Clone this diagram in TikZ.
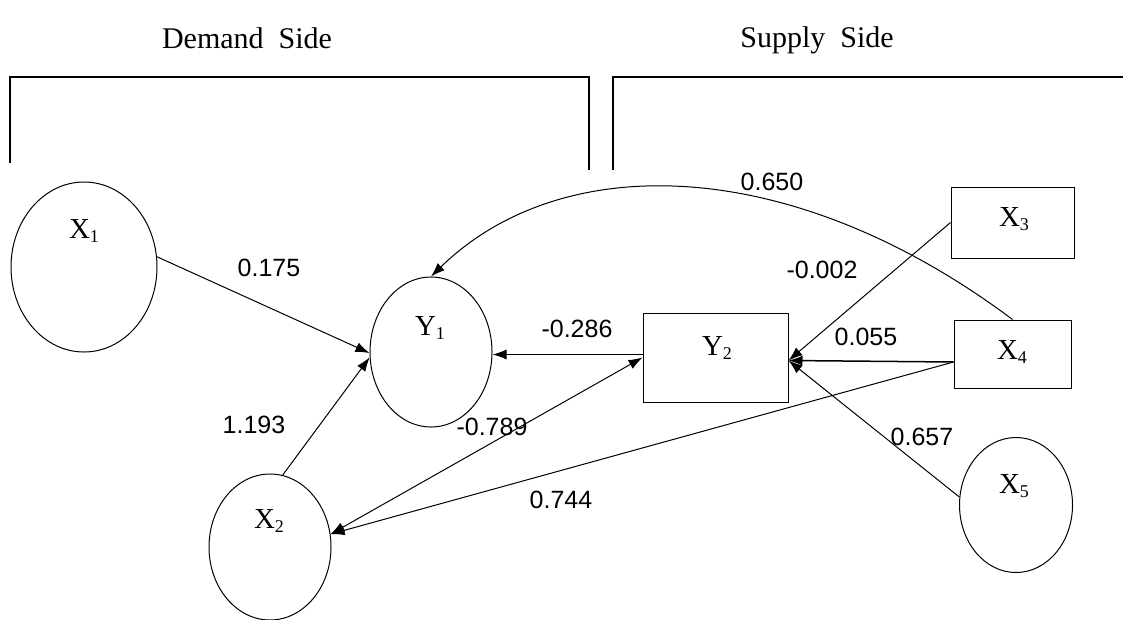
\documentclass[tikz,border=0pt]{standalone}
\usepackage{fontspec}
\setmainfont{Liberation Serif}
\newfontfamily\numfont{Liberation Sans}
\usetikzlibrary{shapes.geometric,arrows.meta}
\newcommand\lsub[1]{\raisebox{-4pt}{\fontsize{18}{18}\selectfont #1}}
\begin{document}
\begin{tikzpicture}[x=1pt,y=-1pt,
  ell/.style={ellipse,draw,line width=1pt,inner sep=0pt},
  boxn/.style={rectangle,draw,line width=1pt,inner sep=0pt},
  nlab/.style={anchor=base,font=\fontsize{29}{29}\selectfont,inner sep=0pt},
  elab/.style={font=\numfont\fontsize{25}{25}\selectfont,inner sep=0pt},
  ttl/.style={anchor=base,font=\fontsize{30}{30}\selectfont,inner sep=0pt},
  brk/.style={line width=1.2pt},
  conn/.style={line width=1pt,-{Latex[length=14pt,width=10pt]}},
  dconn/.style={line width=1pt,{Latex[length=14pt,width=10pt]}-{Latex[length=14pt,width=10pt]}}
]
\useasboundingbox (0,0) rectangle (1123,619);

% titles
\node[ttl] (dem) at (247,48) {Demand\ \ Side};
\node[ttl] (sup) at (817,47) {Supply\ \ Side};

% brackets
\draw[brk] (10,163) -- (10,77) -- (589,77) -- (589,170);
\draw[brk] (613,170) -- (613,77) -- (1123,77);

% nodes
\node[ell,minimum width=146pt,minimum height=170pt] (X1) at (84,267) {};
\node[ell,minimum width=122pt,minimum height=150pt] (Y1) at (431,352) {};
\node[ell,minimum width=122pt,minimum height=146pt] (X2) at (270,547) {};
\node[ell,minimum width=113pt,minimum height=135pt] (X5) at (1016,505) {};
\node[boxn,minimum width=145pt,minimum height=89pt] (Y2) at (715.5,357.5) {};
\node[boxn,minimum width=123pt,minimum height=71pt] (X3) at (1012.5,222.5) {};
\node[boxn,minimum width=117pt,minimum height=68pt] (X4) at (1012.5,354) {};

% node labels
\node[nlab] (X1t) at (84,238) {X\lsub{1}};
\node[nlab] (Y1t) at (430,335) {Y\lsub{1}};
\node[nlab] (X2t) at (269,528) {X\lsub{2}};
\node[nlab] (Y2t) at (717,355) {Y\lsub{2}};
\node[nlab] (X3t) at (1014,226) {X\lsub{3}};
\node[nlab] (X4t) at (1012,359) {X\lsub{4}};
\node[nlab] (X5t) at (1014,493) {X\lsub{5}};

% connectors
\coordinate (y2l) at ([yshift=3pt]Y2.west);
\coordinate (y2r) at ([yshift=-3pt]Y2.east);
\coordinate (x4l) at ([yshift=-8pt]X4.west);
\draw[conn] (X1.8) -- (Y1.181);
\draw[conn] (X2.80) -- (Y1.185);
\draw[conn] (y2l) -- (y2l -| Y1.east);
\draw[dconn] (X2.12) -- (Y2.west);
\draw[conn] (X3.west) -- (y2r);
\draw[conn,line width=1.5pt] (x4l) -- (y2r);
\draw[conn] (X5.172) -- (y2r);
\draw[conn] (x4l) -- (X2.12);
\draw[conn] (X4.north) .. controls (793,155) and (563,148) .. (Y1.north);

% edge labels
\node[elab] (l175) at (269,268) {0.175};
\node[elab] (l1193) at (254,425) {1.193};
\node[elab] (l286) at (577,329) {-0.286};
\node[elab] (l789) at (492,427) {-0.789};
\node[elab] (l744) at (561,500) {0.744};
\node[elab] (l650) at (772,182) {0.650};
\node[elab] (l002) at (822,270) {-0.002};
\node[elab] (l055) at (866,337) {0.055};
\node[elab] (l657) at (922,437) {0.657};
\end{tikzpicture}
\end{document}
